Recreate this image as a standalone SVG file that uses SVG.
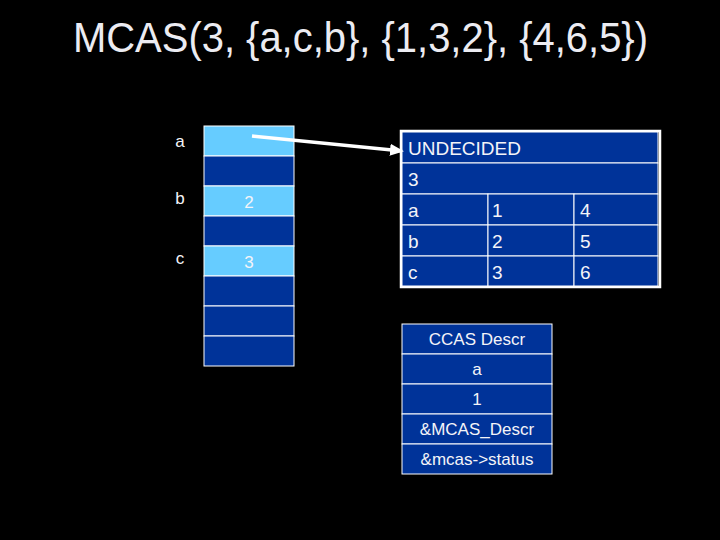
<svg xmlns="http://www.w3.org/2000/svg" width="720" height="540" viewBox="0 0 720 540">
<defs>
<style>
text{font-family:"Liberation Sans",Arial,sans-serif;fill:#f4f4f8}
.lt{fill:#66ccff;stroke:#ffffff;stroke-width:1}
.dk{fill:#003399;stroke:#ffffff;stroke-width:1}
.s16{font-size:17px}
.s19{font-size:19px}
.c{text-anchor:middle}
</style>
<marker id="ah" markerWidth="14" markerHeight="14" refX="12" refY="7" orient="auto" markerUnits="userSpaceOnUse" viewBox="0 0 14 14">
<path d="M0,1 L14,7 L0,13 z" fill="#ffffff"/>
</marker>
</defs>
<rect width="720" height="540" fill="#000000"/>
<text x="73" y="52" textLength="575" lengthAdjust="spacingAndGlyphs" style="font-size:42px;fill:#ececf2">MCAS(3, {a,c,b}, {1,3,2}, {4,6,5})</text>

<g id="memory">
<rect class="lt" x="204" y="126" width="90" height="30"/>
<rect class="dk" x="204" y="156" width="90" height="30"/>
<rect class="lt" x="204" y="186" width="90" height="30"/>
<rect class="dk" x="204" y="216" width="90" height="30"/>
<rect class="lt" x="204" y="246" width="90" height="30"/>
<rect class="dk" x="204" y="276" width="90" height="30"/>
<rect class="dk" x="204" y="306" width="90" height="30"/>
<rect class="dk" x="204" y="336" width="90" height="30"/>
<text x="249" y="208" class="c s16">2</text>
<text x="249" y="268" class="c s16">3</text>
</g>
<g id="labels">
<text x="180" y="147" class="c s16">a</text>
<text x="180" y="204" class="c s16">b</text>
<text x="180" y="264" class="c s16">c</text>
</g>

<g id="status">
<rect x="401" y="131" width="259" height="156" fill="none" stroke="#ffffff" stroke-width="2.5"/>
<rect class="dk" x="402" y="132" width="256" height="31"/>
<rect class="dk" x="402" y="163" width="256" height="31"/>
<rect class="dk" x="402" y="194" width="86" height="31"/>
<rect class="dk" x="488" y="194" width="86" height="31"/>
<rect class="dk" x="574" y="194" width="84" height="31"/>
<rect class="dk" x="402" y="225" width="86" height="31"/>
<rect class="dk" x="488" y="225" width="86" height="31"/>
<rect class="dk" x="574" y="225" width="84" height="31"/>
<rect class="dk" x="402" y="256" width="86" height="30"/>
<rect class="dk" x="488" y="256" width="86" height="30"/>
<rect class="dk" x="574" y="256" width="84" height="30"/>
<text x="408" y="155" class="s19">UNDECIDED</text>
<text x="408" y="186" class="s19">3</text>
<text x="408" y="217" class="s19">a</text>
<text x="492" y="217" class="s19">1</text>
<text x="580" y="217" class="s19">4</text>
<text x="408" y="248" class="s19">b</text>
<text x="492" y="248" class="s19">2</text>
<text x="580" y="248" class="s19">5</text>
<text x="408" y="279" class="s19">c</text>
<text x="492" y="279" class="s19">3</text>
<text x="580" y="279" class="s19">6</text>
</g>

<g id="ccas">
<rect class="dk" x="402" y="324" width="150" height="30"/>
<rect class="dk" x="402" y="354" width="150" height="30"/>
<rect class="dk" x="402" y="384" width="150" height="30"/>
<rect class="dk" x="402" y="414" width="150" height="30"/>
<rect class="dk" x="402" y="444" width="150" height="30"/>
<text x="477" y="345" class="c s16">CCAS Descr</text>
<text x="477" y="375" class="c s16">a</text>
<text x="477" y="405" class="c s16">1</text>
<text x="477" y="435" class="c s16">&amp;MCAS_Descr</text>
<text x="477" y="465" class="c s16">&amp;mcas-&gt;status</text>
</g>

<g id="connectors">
<line x1="252" y1="136" x2="402" y2="151" stroke="#ffffff" stroke-width="3.5" marker-end="url(#ah)"/>
</g>
</svg>
